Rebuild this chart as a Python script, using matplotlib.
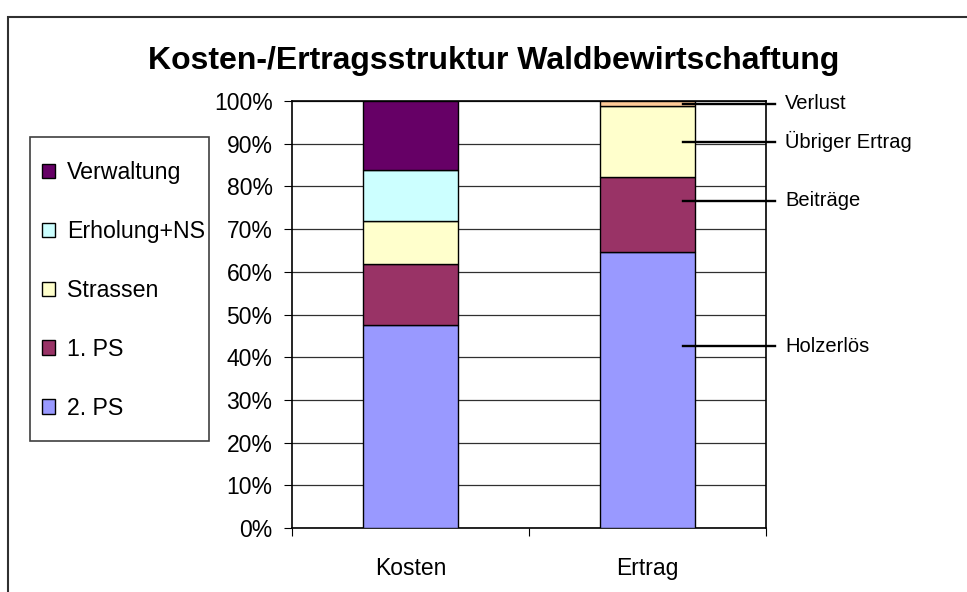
import matplotlib.pyplot as plt
from matplotlib.patches import Rectangle
from matplotlib.ticker import FuncFormatter

plt.rcParams['font.family'] = ['Liberation Sans', 'DejaVu Sans']

categories = ['Kosten', 'Ertrag']

# Kosten series (percent), bottom to top
kosten_names = ['2. PS', '1. PS', 'Strassen', 'Erholung+NS', 'Verwaltung']
kosten_values = [47.6, 14.2, 10.0, 12.0, 16.2]
kosten_colors = ['#9999FF', '#993366', '#FFFFCC', '#CCFFFF', '#660066']

# Ertrag series (percent), bottom to top
ertrag_names = ['Holzerlös', 'Beiträge', 'Übriger Ertrag', 'Verlust']
ertrag_values = [64.6, 17.6, 16.6, 1.2]
ertrag_colors = ['#9999FF', '#993366', '#FFFFCC', '#FFCC99']
# where the label leader lines sit (percent)
ertrag_label_y = [42.6, 76.6, 90.5, 99.4]

yticks = list(range(0, 101, 10))

fig = plt.figure(figsize=(9.67, 5.92), dpi=100)
ax = fig.add_axes([292 / 967, 64 / 592, 474 / 967, 427 / 592])

width = 0.4
handles = []
bottom = 0
for name, val, col in zip(kosten_names, kosten_values, kosten_colors):
    h = ax.bar(0, val, width, bottom=bottom, color=col, edgecolor='black',
               linewidth=1, label=name, zorder=3)
    handles.append(h)
    bottom += val

bottom = 0
for name, val, col in zip(ertrag_names, ertrag_values, ertrag_colors):
    ax.bar(1, val, width, bottom=bottom, color=col, edgecolor='black',
           linewidth=1, zorder=3)
    bottom += val

# data labels with leader lines
for name, ly in zip(ertrag_names, ertrag_label_y):
    ax.plot([1.15, 1.54], [ly, ly], color='black', lw=1.7, clip_on=False, zorder=4)
    ax.text(1.58, ly, name, fontsize=14.5, va='center', ha='left', clip_on=False)

ax.set_xlim(-0.5, 1.5)
ax.set_ylim(0, 100)
ax.set_yticks(yticks)
ax.yaxis.set_major_formatter(FuncFormatter(lambda v, p: f'{v:.0f}%'))
ax.grid(axis='y', color='#303030', linewidth=0.9, zorder=0)

ax.set_xticks([-0.5, 0.5, 1.5])
ax.set_xticklabels([])
ax.set_xticks([0, 1], minor=True)
ax.set_xticklabels(categories, minor=True)
ax.tick_params(axis='x', which='major', direction='out', length=6, color='black')
ax.tick_params(axis='x', which='minor', length=0, pad=21, labelsize=16.5)
ax.tick_params(axis='y', direction='out', length=6, labelsize=16.5, pad=8)

for s in ax.spines.values():
    s.set_color('black')
    s.set_linewidth(1.2)

fig.text(494 / 967, 1 - 61 / 592, 'Kosten-/Ertragsstruktur Waldbewirtschaftung',
         ha='center', va='center', fontsize=23, fontweight='bold')

leg = fig.legend(handles[::-1], kosten_names[::-1], loc='upper left',
                 bbox_to_anchor=(42 / 967, 1 - 161 / 592), borderaxespad=0,
                 fontsize=16.7, frameon=False,
                 handlelength=0.58, handleheight=0.58, handletextpad=0.5,
                 labelspacing=1.55, borderpad=0)

# legend frame
fig.patches.append(Rectangle((30 / 967, 1 - 441 / 592), 179 / 967, 304 / 592,
                             transform=fig.transFigure, fill=False,
                             edgecolor='#404040', linewidth=1.2))

# outer chart frame
fig.patches.append(Rectangle((8 / 967, -0.1), 1.2, 1.1 - 17 / 592,
                             transform=fig.transFigure, fill=False,
                             edgecolor='#303030', linewidth=1.5))

plt.savefig('out.png', dpi=100)
